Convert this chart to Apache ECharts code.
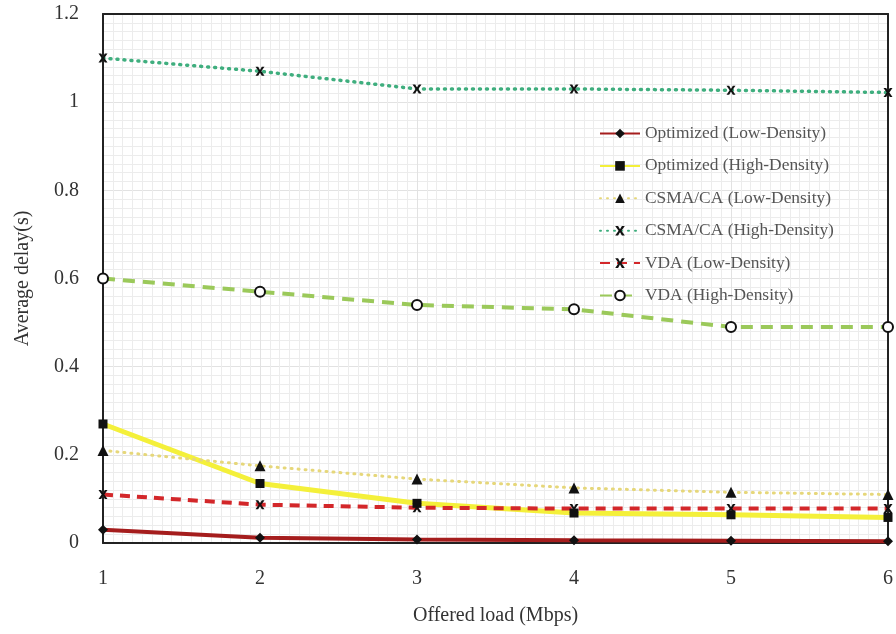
<!DOCTYPE html>
<html><head><meta charset="utf-8">
<script src="https://cdn.jsdelivr.net/npm/echarts@6/dist/echarts.min.js"></script>
<style>html,body{margin:0;padding:0;background:#fff}#c{width:896px;height:634px}</style>
</head><body><div id="c"></div>
<script>
const xValues = [1, 2, 3, 4, 5, 6];
const optLow  = [0.03, 0.012, 0.008, 0.006, 0.005, 0.004];
const optHigh = [0.27, 0.135, 0.09, 0.068, 0.064, 0.058];
const csmaLow = [0.21, 0.175, 0.145, 0.125, 0.115, 0.11];
const csmaHigh = [1.10, 1.07, 1.03, 1.03, 1.027, 1.022];
const vdaLow  = [0.11, 0.087, 0.08, 0.078, 0.078, 0.078];
const vdaHigh = [0.60, 0.57, 0.54, 0.53, 0.49, 0.49];
const names = ['Optimized (Low-Density)','Optimized (High-Density)','CSMA/CA (Low-Density)','CSMA/CA (High-Density)','VDA (Low-Density)','VDA (High-Density)'];
const yTicks = [0, 0.2, 0.4, 0.6, 0.8, 1, 1.2];

const xPath = 'path://M0,0 L3,0 L5,3.5 L7,0 L10,0 L6.5,5 L10,10 L7,10 L5,6.5 L3,10 L0,10 L3.5,5 Z';
const pair = d => d.map((v,i)=>[xValues[i], v]);
const font = 'Liberation Serif';

const series = [
  {name:names[0], data:pair(optLow), color:'#a51d1d', lineStyle:{width:4,type:'solid'}, symbol:'diamond', symbolSize:10},
  {name:names[1], data:pair(optHigh), color:'#f4f03a', lineStyle:{width:5,type:'solid'}, symbol:'rect', symbolSize:9},
  {name:names[2], data:pair(csmaLow), color:'#e6d77a', lineStyle:{width:3,type:[1,6],cap:'round'}, symbol:'triangle', symbolSize:11},
  {name:names[3], data:pair(csmaHigh), color:'#3fae7e', lineStyle:{width:3.5,type:[1,6],cap:'round'}, symbol:xPath, symbolSize:9},
  {name:names[4], data:pair(vdaLow), color:'#d3272a', lineStyle:{width:4,type:[10,7]}, symbol:xPath, symbolSize:9},
  {name:names[5], data:pair(vdaHigh), color:'#9bc95a', lineStyle:{width:4,type:[12,8]}, symbol:'emptyCircle', symbolSize:10}
].map(s => ({
  type:'line', name:s.name, data:s.data, symbol:s.symbol, symbolSize:s.symbolSize,
  showAllSymbol:true,
  lineStyle:Object.assign({color:s.color}, s.lineStyle),
  itemStyle: s.symbol==='emptyCircle'
    ? {color:'#111', borderColor:'#111', borderWidth:2.5}
    : {color:'#111', borderWidth:0},
  smooth:false, z:3
}));

const frameAxis = {
  axisLine:{show:true, onZero:false, lineStyle:{color:'#222', width:2}},
  axisTick:{show:false}, axisLabel:{show:false}, splitLine:{show:false}
};

const chart = echarts.init(document.getElementById('c'), null, {renderer:'canvas'});
chart.setOption({
  animation:false,
  backgroundColor:'#fff',
  grid:{left:103, right:6, top:14, bottom:91, show:false},
  legend:{
    orient:'vertical', left:594, top:120, itemWidth:40, itemHeight:12, itemGap:15.4,
    textStyle:{fontFamily:font, fontSize:17.4, color:'#555'},
    data:names
  },
  xAxis:[{
    type:'value', min:1, max:6, interval:1,
    name:'Offered load (Mbps)', nameLocation:'middle', nameGap:63,
    nameTextStyle:{fontFamily:font, fontSize:20, color:'#333'},
    axisLine:{show:true, onZero:false, lineStyle:{color:'#222', width:2}},
    axisTick:{show:false},
    axisLabel:{fontFamily:font, fontSize:20, color:'#333', margin:26},
    splitLine:{show:true, lineStyle:{color:'#e2e2e2', width:1}},
    minorTick:{show:false, splitNumber:16},
    minorSplitLine:{show:true, lineStyle:{color:'#ececec', width:1}}
  }, Object.assign({type:'value', min:1, max:6, interval:1, position:'top'}, frameAxis)],
  yAxis:[{
    type:'value', min:0, max:1.2, interval:0.2,
    name:'Average delay(s)', nameLocation:'middle', nameGap:70, nameRotate:90,
    nameTextStyle:{fontFamily:font, fontSize:20, color:'#333'},
    axisLine:{show:true, onZero:false, lineStyle:{color:'#222', width:2}},
    axisTick:{show:false},
    axisLabel:{fontFamily:font, fontSize:20, color:'#333', margin:24,
      formatter: v => { const t = yTicks.find(k => Math.abs(k-v)<1e-9); return t===undefined?'':String(t); }},
    splitLine:{show:true, lineStyle:{color:'#e2e2e2', width:1}},
    minorTick:{show:false, splitNumber:10},
    minorSplitLine:{show:true, lineStyle:{color:'#ececec', width:1}}
  }, Object.assign({type:'value', min:0, max:1.2, interval:0.2, position:'right'}, frameAxis)],
  series
});
</script></body></html>
